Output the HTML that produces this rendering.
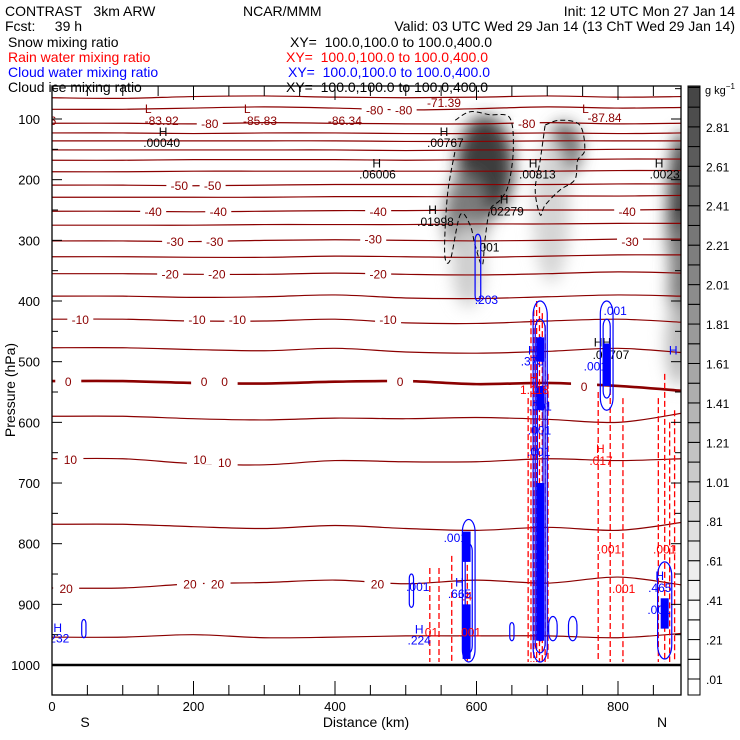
<!DOCTYPE html>
<html><head><meta charset="utf-8"><style>
body{margin:0;background:#fff}
svg{display:block;font-family:"Liberation Sans",sans-serif}
text{white-space:pre}
</style></head><body>
<svg id="chart" width="740" height="740" viewBox="0 0 740 740" xmlns="http://www.w3.org/2000/svg">
<defs>
<filter id="blur" x="-100%" y="-100%" width="300%" height="300%"><feGaussianBlur stdDeviation="8"/></filter>
<clipPath id="plotclip"><rect x="52" y="86" width="629" height="609"/></clipPath>
</defs>
<g font-size="14">
<text x="5" y="16" fill="#000" xml:space="preserve">CONTRAST   3km ARW</text>
<text x="243" y="16" fill="#000">NCAR/MMM</text>
<text x="735" y="16" fill="#000" text-anchor="end">Init: 12 UTC Mon 27 Jan 14</text>
<text x="5" y="31" fill="#000" xml:space="preserve">Fcst:     39 h</text>
<text x="735" y="31" fill="#000" text-anchor="end">Valid: 03 UTC Wed 29 Jan 14 (13 ChT Wed 29 Jan 14)</text>
<text x="8" y="47" fill="#000">Snow mixing ratio</text>
<text x="290" y="47" fill="#000">XY=  100.0,100.0 to 100.0,400.0</text>
<text x="8" y="62" fill="#f00">Rain water mixing ratio</text>
<text x="286" y="62" fill="#f00">XY=  100.0,100.0 to 100.0,400.0</text>
<text x="8" y="77" fill="#00f">Cloud water mixing ratio</text>
<text x="288" y="77" fill="#00f">XY=  100.0,100.0 to 100.0,400.0</text>
<text x="8" y="92" fill="#000">Cloud ice mixing ratio</text>
<text x="286" y="92" fill="#000">XY=  100.0,100.0 to 100.0,400.0</text>
</g>
<g id="plot" clip-path="url(#plotclip)"></g>
<g id="axes"></g>
<g id="cbar"></g>
</svg>
<script>
const NS="http://www.w3.org/2000/svg";
// ---- data ----
const knotsKm=[0,100,200,300,400,500,600,700,800,890];
const isoLevels=[-75,-78,-82,-80,-75,-70,-65,-60,-50,-45,-40,-35,-30,-25,-20,-15,-10,-5,0,5,10,15,20,25];
const iso1=[65,66,63,62,64,65,64,62,64,63];
const iso2=[84,84,82,80,82,85,83,80,82,81];
const iso3=[107,107,108,106,107,108,108,106,108,107];
const iso4=[123,123,124,123,123,124,124,123,124,123];
const iso5=[136,136,136,136,136,137,137,136,136,136];
const iso6=[151,151,151,151,151,152,151,151,150,150];
const iso7=[168,168,167,167,167,168,167,167,166,166];
const iso8=[187,187,186,186,186,186,186,186,185,185];
const iso9=[209,209,210,209,208,208,208,208,207,207];
const iso10=[229,229,229,229,228,228,228,227,227,226];
const iso11=[252,252,253,252,251,251,250,250,250,249];
const iso12=[275,275,275,274,274,274,273,273,272,272];
const iso13=[301,301,302,300,299,300,301,300,298,298];
const iso14=[327,327,328,328,326,327,328,326,324,324];
const iso15=[355,355,356,356,354,356,357,355,352,354];
const iso16=[392,392,394,393,390,395,396,393,390,392];
const iso17=[430,430,433,433,430,436,437,433,430,435];
const iso18=[477,477,480,482,478,484,486,483,478,485];
const iso19=[532,532,535,536,533,532,537,535,540,548];
const iso20=[590,590,594,596,593,594,592,595,600,585];
const iso21=[660,660,668,670,663,665,665,660,663,660];
const iso22=[768,768,772,775,770,775,778,773,778,765];
const iso23=[873,873,866,864,860,866,860,865,855,868];
const iso24=[954,954,950,955,954,952,952,952,955,948];
const isoSeries=[iso1,iso2,iso3,iso4,iso5,iso6,iso7,iso8,iso9,iso10,iso11,iso12,iso13,iso14,iso15,iso16,iso17,iso18,iso19,iso20,iso21,iso22,iso23,iso24];
const isoLabText=["-50","-50","-40","-40","-30","-30","-20","-20","-10","-10","-10","0","0","0","10","10","10","20","20","20","-80","-80","-80","-80","-40","-30","-40","-30","-20","-10","0","0","20"];
const isoLabKm=[180,227,143,235,174,230,167,233,40,205,262,23,215,244,26,209,244,20,195,234,223,497,456,671,461,454,813,817,461,475,492,752,460];
const isoLabP=[209,209,252,252,301,301,355,355,430,430,430,532,532,532,660,660,665,873,866,866,107,84,84,107,252,297,252,301,355,430,532,540,866];
const extText=["L","-83.92","L","-85.83","-86.34","-85.06","-71.39","L","-87.84"];
const extKm=[136,155,276,294,414,-18,554,754,781];
const extP=[82,102,82,102,102,102,72,82,97];
const snowKm=[612,585,588,724,706,890,892,886];
const snowP=[180,260,340,150,250,260,380,470];
const snowRkm=[40,30,22,24,26,20,20,18];
const snowRp=[85,70,70,45,120,140,110,70];
const snowVal=[3.1,2.2,1.0,2.5,0.9,3.0,2.2,1.3];
const iceAkm=[570,591,619,647,652,645,633,619,612,608,598,591,577,563,555,559,570];
const iceAp=[102,88,93,98,151,209,234,250,299,341,308,275,258,332,321,225,151];
const iceBkm=[697,718,746,753,743,739,718,697,690,683,690,697];
const iceBp=[110,102,110,151,168,200,217,242,258,217,168,110];
const iceMarkText=["H",".00040","H",".06006","H",".00767","H",".01998","H",".02279","H",".00813","H",".0023","HH",".00707",".001"];
const iceMarkKm=[157,155,459,460,554,556,538,542,639,641,680,686,858,866,778,790,616];
const iceMarkP=[120,138,172,190,120,138,248,268,231,251,172,190,172,190,467,487,310];
const rainKm=[534,547,565,587,673,677,681,685,689,693,697,701,772,789,807,857,866,873,880];
const rainTop=[840,840,820,820,560,430,415,400,410,420,440,520,550,545,560,560,520,600,580];
const rainText=["H","1.118","H",".017",".001",".001",".001",".01",".001","-.4"];
const rainKm2=[681,682,775,776,788,808,866,534,590,584];
const rainP2=[525,545,642,662,808,873,808,945,945,885];
const cwKm=[690,690,690,589,589,784,784,866,602,508,45,708,736,650];
const cwTop=[400,430,460,760,800,400,430,830,290,850,925,920,920,930];
const cwBot=[995,980,960,995,980,580,560,990,400,905,955,960,960,960];
const cwW=[10,7,4,9,5,9,5,10,4,3,3,6,6,3];
const cwFillKm=[690,690,690,586,586,784,866];
const cwFillTop=[460,540,700,780,900,470,890];
const cwFillBot=[500,580,960,830,990,540,940];
const cwText=["H",".232","H",".224",".001","H",".665",".001","H",".373",".001",".001",".001",".001",".203","H",".465",".001","H",".001"];
const cwLabKm=[8,8,519,519,517,576,576,570,679,679,690,689,688,796,614,859,859,858,878,768];
const cwLabP=[937,955,940,958,870,862,881,789,480,498,572,612,647,415,397,852,871,908,480,506];
const pTicks=[100,200,300,400,500,600,700,800,900,1000];
const kmTicks=[0,200,400,600,800];
const cbarLabels=[".01",".21",".41",".61",".81","1.01","1.21","1.41","1.61","1.81","2.01","2.21","2.41","2.61","2.81"];
const cbarVals=[0.01,0.21,0.41,0.61,0.81,1.01,1.21,1.41,1.61,1.81,2.01,2.21,2.41,2.61,2.81];

// ---- scales ----
const X0=52,X1=681,Y0=86,Y1=695;
const xs=km=>52+km*0.7075;
const ys=p=>119+(p-100)*0.6067;
const gray=v=>{let g=Math.round(255-Math.max(0,v-0.3)/2.75*191);g=Math.max(60,Math.min(255,g));return `rgb(${g},${g},${g})`;};
const plot=document.getElementById('plot'),axes=document.getElementById('axes'),cbar=document.getElementById('cbar');
function mk(tag,attrs,parent){const e=document.createElementNS(NS,tag);for(const k in attrs)e.setAttribute(k,attrs[k]);parent.appendChild(e);return e;}
function txt(s,x,y,fill,parent,anchor){const t=mk('text',{x:x,y:y,fill:fill,'font-size':12,'text-anchor':anchor||'middle'},parent);t.textContent=s;return t;}
function smooth(pts){let d=`M${pts[0][0]},${pts[0][1]}`;for(let i=0;i<pts.length-1;i++){const p0=pts[i-1]||pts[i],p1=pts[i],p2=pts[i+1],p3=pts[i+2]||p2;d+=` C${p1[0]+(p2[0]-p0[0])/6},${p1[1]+(p2[1]-p0[1])/6} ${p2[0]-(p3[0]-p1[0])/6},${p2[1]-(p3[1]-p1[1])/6} ${p2[0]},${p2[1]}`;}return d;}

const sg=mk('g',{filter:'url(#blur)'},plot);


snowKm.forEach((k,i)=>{const e=mk('ellipse',{cx:xs(k),cy:ys(snowP[i]),rx:snowRkm[i]*0.7075,ry:snowRp[i]*0.6067,fill:gray(snowVal[i])},sg);

});

isoSeries.forEach((s,i)=>{const pts=s.map((p,j)=>[xs(knotsKm[j]),ys(p)]);
const e=mk('path',{d:smooth(pts),fill:'none',stroke:'#8b0000','stroke-width':isoLevels[i]===0?2.6:1.2},plot);

});
isoLabText.forEach((t,i)=>{const x=xs(isoLabKm[i]),y=ys(isoLabP[i]);
mk('rect',{x:x-13,y:y-6,width:26,height:12,fill:'#fff'},plot);
const e=txt(t,x,y+5,'#8b0000',plot);

});
extText.forEach((t,i)=>{const e=txt(t,xs(extKm[i]),ys(extP[i])+5,'#8b0000',plot);

});

[[iceAkm,iceAp],[iceBkm,iceBp]].forEach(([k,p])=>{const pts=k.map((v,j)=>[xs(v),ys(p[j])]);
const e=mk('path',{d:smooth(pts),fill:'none',stroke:'#000','stroke-width':1,'stroke-dasharray':'5,3'},plot);

});
iceMarkText.forEach((t,i)=>{const e=txt(t,xs(iceMarkKm[i]),ys(iceMarkP[i])+5,'#000',plot);

});

rainKm.forEach((k,i)=>{const e=mk('line',{x1:xs(k),x2:xs(k),y1:ys(rainTop[i]),y2:ys(1000)-3,stroke:'#f00','stroke-width':1.3,'stroke-dasharray':'6,3'},plot);

});

cwKm.forEach((k,i)=>{const x=xs(k),w=cwW[i]*0.7075,t=ys(cwTop[i]),b=ys(cwBot[i]);
const e=mk('rect',{x:x-w,y:t,width:2*w,height:b-t,rx:w,ry:Math.min(w*2,(b-t)/2),fill:'none',stroke:'#00f','stroke-width':1.2},plot);

});
cwFillKm.forEach((k,i)=>{const x=xs(k),t=ys(cwFillTop[i]),b=ys(cwFillBot[i]);
const e=mk('rect',{x:x-4,y:t,width:8,height:b-t,fill:'#00f'},plot);

});
rainText.forEach((t,i)=>{const e=txt(t,xs(rainKm2[i]),ys(rainP2[i])+5,'#f00',plot);

});
cwText.forEach((t,i)=>{const e=txt(t,xs(cwLabKm[i]),ys(cwLabP[i])+5,'#00f',plot);

});

const sfc=mk('line',{x1:X0,x2:X1,y1:ys(1000),y2:ys(1000),stroke:'#000','stroke-width':2.5},plot);



const fr=mk('rect',{x:X0,y:Y0,width:X1-X0,height:Y1-Y0,fill:'none',stroke:'#000','stroke-width':1.3},axes);


for(let p=50;p<=1050;p+=50){const y=ys(p);if(y<Y0||y>Y1)continue;const L=p%100===0?10:6;
mk('line',{x1:X0,x2:X0+L,y1:y,y2:y,stroke:'#000'},axes);mk('line',{x1:X1,x2:X1-L,y1:y,y2:y,stroke:'#000'},axes);}
pTicks.forEach(p=>{const e=txt(String(p),40,ys(p)+5,'#000',axes,'end');e.setAttribute('font-size',13);

});
for(let k=0;k<=890;k+=50){const x=xs(k);const L=k%200===0?14:10;
mk('line',{x1:x,x2:x,y1:Y1,y2:Y1-L,stroke:'#000'},axes);mk('line',{x1:x,x2:x,y1:Y0,y2:Y0+L,stroke:'#000'},axes);}
kmTicks.forEach(k=>{const e=txt(String(k),xs(k),711,'#000',axes);e.setAttribute('font-size',13);

});
const xt=txt('Distance (km)',366,727,'#000',axes);xt.setAttribute('font-size',14);


const sL=txt('S',85,727,'#000',axes);sL.setAttribute('font-size',14);


const nL=txt('N',662,727,'#000',axes);nL.setAttribute('font-size',14);


const yt=txt('Pressure (hPa)',0,0,'#000',axes);yt.setAttribute('font-size',14);yt.setAttribute('transform','translate(15,390) rotate(-90)');



const cy=v=>679-(v-0.01)*197.2;
for(let v=-0.09;v<3.05;v+=0.1){const top=Math.max(86,cy(v+0.1)),bot=Math.min(695,cy(v));if(bot<=top)continue;
const r=mk('rect',{x:688,y:top,width:12,height:bot-top,fill:gray(v+0.05),stroke:'#000','stroke-width':1},cbar);

}
cbarLabels.forEach((t,i)=>{const e=txt(t,706,cy(cbarVals[i])+5,'#000',cbar,'start');

});
const un=mk('text',{x:705,y:94,'font-size':11,fill:'#000'},cbar);un.innerHTML='g kg<tspan dy="-5" font-size="8">−1</tspan>';


</script>
</body></html>
